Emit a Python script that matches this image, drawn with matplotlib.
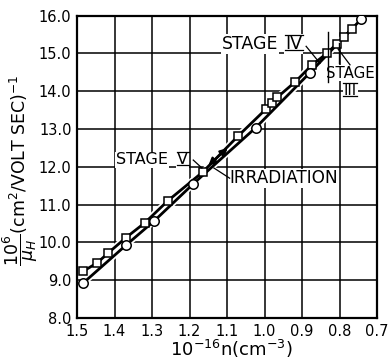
import matplotlib
matplotlib.use("Agg")
import matplotlib.pyplot as plt
from matplotlib.lines import Line2D

# data
sq_n = [1.483, 1.446, 1.418, 1.369, 1.319, 1.258, 1.165, 1.071, 0.996, 0.981,
        0.966, 0.918, 0.874, 0.834, 0.808, 0.788, 0.766]
sq_mu = [9.24, 9.46, 9.71, 10.13, 10.52, 11.10, 11.86, 12.81, 13.53, 13.68,
         13.84, 14.25, 14.69, 15.00, 15.25, 15.44, 15.66]
ci_n = [1.483, 1.369, 1.294, 1.190, 1.023, 0.879, 0.743]
ci_mu = [8.93, 9.93, 10.57, 11.55, 13.04, 14.49, 15.90]

xticks = [1.5, 1.4, 1.3, 1.2, 1.1, 1.0, 0.9, 0.8, 0.7]
xlabels = ["1.5", "1.4", "1.3", "1.2", "1.1", "1.0", "0.9", "0.8", "0.7"]
yticks = [8, 9, 10, 11, 12, 13, 14, 15, 16]
ylabels = ["8.0", "9.0", "10.0", "11.0", "12.0", "13.0", "14.0", "15.0", "16.0"]

plt.rcParams["font.family"] = ["Liberation Sans Narrow", "DejaVu Sans"]
plt.rcParams["mathtext.fontset"] = "custom"
plt.rcParams["mathtext.rm"] = "Liberation Sans Narrow"
plt.rcParams["mathtext.it"] = "Liberation Sans Narrow:italic"
plt.rcParams["mathtext.bf"] = "Liberation Sans Narrow:bold"
plt.rcParams["mathtext.sf"] = "Liberation Sans Narrow"

fig = plt.figure(figsize=(3.88, 3.64), dpi=100)
ax = fig.add_axes([77/388., 1-318/364., 300/388., 302.3/364.])

ax.set_xlim(1.5, 0.7)
ax.set_ylim(8, 16)
ax.set_xticks(xticks)
ax.set_xticklabels(xlabels, fontsize=10.5)
ax.set_yticks(yticks)
ax.set_yticklabels(ylabels, fontsize=10.5)
ax.tick_params(length=0, pad=4)
ax.grid(True, color="black", lw=1.1)
ax.set_axisbelow(True)
for s in ax.spines.values():
    s.set_linewidth(1.6)

# white halo under the two lines, then the lines
for n, mu in ((ci_n, ci_mu), (sq_n, sq_mu)):
    ax.plot(n, mu, color="white", lw=4.5, zorder=2, solid_capstyle="butt")
for n, mu in ((ci_n, ci_mu), (sq_n, sq_mu)):
    ax.plot(n, mu, color="black", lw=2.0, zorder=3)
ax.plot(sq_n, sq_mu, ls="none", marker="s", ms=5.5, mfc="white", mec="black",
        mew=1.1, zorder=4)
ax.plot(ci_n, ci_mu, ls="none", marker="o", ms=6.8, mfc="white", mec="black",
        mew=1.1, zorder=4)

# irradiation arrow
ax.annotate("", xy=(1.150, 12.03), xytext=(1.098, 12.50),
            arrowprops=dict(arrowstyle="<|-|>", color="black", lw=1.6,
                            mutation_scale=11, shrinkA=0, shrinkB=0), zorder=5)

box = dict(facecolor="white", edgecolor="none", pad=0.5)

# labels
ax.text(1.257, 12.07, "STAGE", fontsize=11.5, ha="right", va="baseline",
        bbox=box, zorder=6)
v5 = ax.text(1.233, 12.07, "V", fontsize=11.5, va="baseline", bbox=box, zorder=6)
ax.plot([1.190, 1.167], [12.18, 11.97], color="black", lw=0.9, zorder=6)

ax.text(0.948, 11.70, "IRRADIATION", fontsize=12.2, ha="center", va="center",
        bbox=box, zorder=6)
ax.plot([1.093, 1.135], [11.70, 11.97], color="black", lw=0.9, zorder=6)

ax.text(0.964, 15.12, "STAGE", fontsize=12.5, ha="right", va="baseline",
        bbox=box, zorder=6)
v4 = ax.text(0.945, 15.12, "IV", fontsize=12.5, va="baseline", bbox=box, zorder=6)
ax.plot([0.889, 0.852], [15.19, 14.74], color="black", lw=0.9, zorder=6)

ax.text(0.772, 14.48, "STAGE", fontsize=10.8, ha="center", va="center",
        bbox=box, zorder=6)
v3 = ax.text(0.771, 13.90, "III", fontsize=10.8, ha="center", va="baseline",
             bbox=box, zorder=6)
ax.plot([0.772, 0.804], [14.70, 15.12], color="black", lw=0.9, zorder=6)
ax.plot([0.831, 0.831], [15.57, 14.24], color="black", lw=1.0, zorder=6)
ax.plot([0.801, 0.801], [15.28, 14.75], color="black", lw=1.0, zorder=6)

# bars over and under the roman numerals
fig.canvas.draw()
r = fig.canvas.get_renderer()
inv = fig.transFigure.inverted()
for t in (v5, v4, v3):
    bb = t.get_window_extent(renderer=r)
    base = ax.transData.transform(t.get_position())[1]
    cap = 0.729 * t.get_fontsize() * fig.dpi / 72.
    for yy in (base - 1.2, base + cap + 1.0):
        p0 = inv.transform((bb.x0 - 0.5, yy))
        p1 = inv.transform((bb.x1 + 0.5, yy))
        fig.add_artist(Line2D([p0[0], p1[0]], [p0[1], p1[1]], color="black",
                              lw=0.9, zorder=7))

fig.text(231/388., 1 - 356/364., r"$10^{-16}$n(cm$^{-3}$)",
         fontsize=13, ha="center", va="baseline")
fig.text(20/388., 1 - 170/364., r"$\dfrac{10^6}{\mu_H}$(cm$^2$/VOLT SEC)$^{-1}$",
         fontsize=12.5, rotation=90, ha="center", va="center")

fig.savefig("out.png", dpi=100)
